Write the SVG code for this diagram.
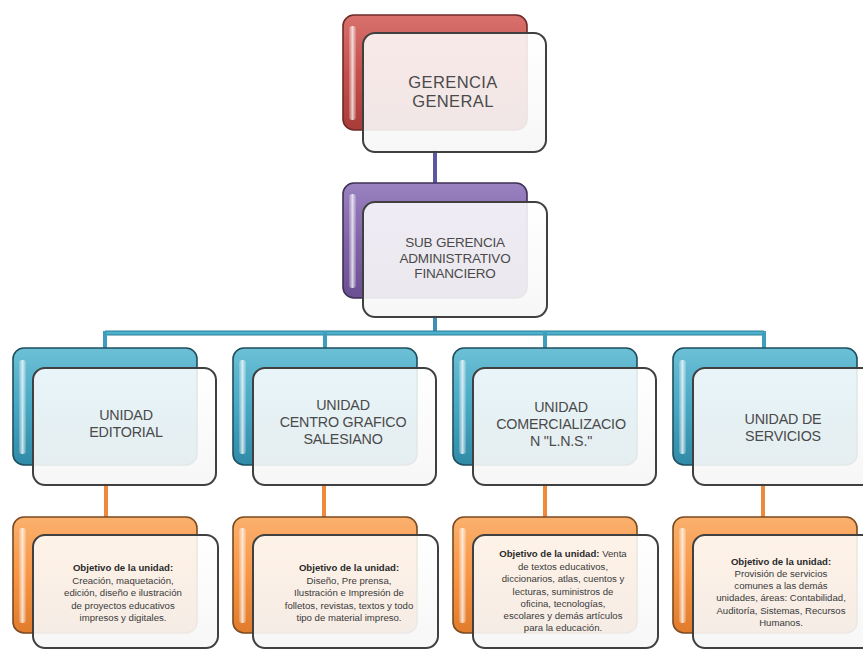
<svg xmlns="http://www.w3.org/2000/svg" width="863" height="650" viewBox="0 0 863 650">
<defs>
<linearGradient id="gRed" x1="0" y1="0" x2="0" y2="1"><stop offset="0" stop-color="#d8716d"/><stop offset="0.5" stop-color="#c4504c"/><stop offset="1" stop-color="#a83c39"/></linearGradient>
<linearGradient id="gPur" x1="0" y1="0" x2="0" y2="1"><stop offset="0" stop-color="#9a82c0"/><stop offset="0.5" stop-color="#8064a8"/><stop offset="1" stop-color="#6a4f92"/></linearGradient>
<linearGradient id="gBlu" x1="0" y1="0" x2="0" y2="1"><stop offset="0" stop-color="#6cc0d6"/><stop offset="0.5" stop-color="#48a8c4"/><stop offset="1" stop-color="#2f8aa6"/></linearGradient>
<linearGradient id="gOra" x1="0" y1="0" x2="0" y2="1"><stop offset="0" stop-color="#fbb16e"/><stop offset="0.5" stop-color="#f79646"/><stop offset="1" stop-color="#e07b2c"/></linearGradient>
<linearGradient id="gFront" x1="0" y1="0" x2="0" y2="1"><stop offset="0" stop-color="#ffffff" stop-opacity="0.86"/><stop offset="1" stop-color="#f6f6f6" stop-opacity="0.92"/></linearGradient>
<linearGradient id="gStripe" x1="0" y1="0" x2="1" y2="0"><stop offset="0" stop-color="#ffffff" stop-opacity="0.15"/><stop offset="0.5" stop-color="#ffffff" stop-opacity="0.75"/><stop offset="1" stop-color="#ffffff" stop-opacity="0.15"/></linearGradient>
</defs>
<style>
.back{stroke:#4a3a3a;stroke-width:1.6}
.red{fill:url(#gRed);stroke:#6e2a28}
.pur{fill:url(#gPur);stroke:#3f3055}
.blu{fill:url(#gBlu);stroke:#1f4f5e}
.ora{fill:url(#gOra);stroke:#7a4a20}
.stripe{fill:url(#gStripe)}
.front{fill:url(#gFront);stroke:#404040;stroke-width:2}
.t1{font-family:"Liberation Sans",Arial,sans-serif;fill:#4a4a4a;text-anchor:middle}
.big{font-size:16.5px;letter-spacing:0.4px}
.mid{font-size:13.5px;letter-spacing:-0.2px}
.unit{font-size:14.3px;letter-spacing:-0.2px}
.small{font-family:"Liberation Sans",Arial,sans-serif;font-size:9.6px;fill:#3a3a3a;text-anchor:middle}
.b{font-weight:bold;fill:#2a2a2a}
.cn{fill:none;stroke-width:4}
</style>
<g id="connectors">
<line class="cn" x1="435" y1="150" x2="435" y2="204" stroke="#5c58a0"/>
<line class="cn" x1="435" y1="315" x2="435" y2="334" stroke="#3d8fb3"/>
<line x1="105" y1="333" x2="764" y2="333" stroke="#2f7f98" stroke-width="5"/>
<line x1="105" y1="333" x2="764" y2="333" stroke="#4bb0cc" stroke-width="3"/>
<line class="cn" x1="105" y1="331" x2="105" y2="370" stroke="#3d9fbc"/>
<line class="cn" x1="325" y1="331" x2="325" y2="370" stroke="#3d9fbc"/>
<line class="cn" x1="545" y1="331" x2="545" y2="370" stroke="#3d9fbc"/>
<line class="cn" x1="764" y1="331" x2="764" y2="370" stroke="#3d9fbc"/>
<line class="cn" x1="106" y1="483" x2="106" y2="537" stroke="#ef8a3c"/>
<line class="cn" x1="324" y1="483" x2="324" y2="537" stroke="#ef8a3c"/>
<line class="cn" x1="545" y1="483" x2="545" y2="537" stroke="#ef8a3c"/>
<line class="cn" x1="763" y1="483" x2="763" y2="537" stroke="#ef8a3c"/>
</g>
<g id="gerencia-general">
<rect class="back red" x="343" y="15" width="184" height="115" rx="11"/>
<rect class="stripe" x="349" y="26" width="7" height="94" rx="3"/>
<rect class="front" x="363" y="33" width="183" height="119" rx="12"/>
<text class="t1 big" x="453" y="88">GERENCIA</text>
<text class="t1 big" x="453" y="107">GENERAL</text>
</g>
<g id="sub-gerencia">
<rect class="back pur" x="343" y="183" width="184" height="115" rx="11"/>
<rect class="stripe" x="349" y="194" width="7" height="94" rx="3"/>
<rect class="front" x="363" y="202" width="184" height="115" rx="12"/>
<text class="t1 mid" x="455" y="247">SUB GERENCIA</text>
<text class="t1 mid" x="455" y="262.5">ADMINISTRATIVO</text>
<text class="t1 mid" x="455" y="278">FINANCIERO</text>
</g>
<g id="unidad-editorial">
<rect class="back blu" x="13" y="348" width="184" height="117" rx="11"/>
<rect class="stripe" x="19" y="360" width="7" height="94" rx="3"/>
<rect class="front" x="33" y="368" width="183" height="117" rx="12"/>
<text class="t1 unit" x="126" y="420">UNIDAD</text>
<text class="t1 unit" x="126" y="437">EDITORIAL</text>
</g>
<g id="unidad-centro-grafico">
<rect class="back blu" x="233" y="348" width="184" height="117" rx="11"/>
<rect class="stripe" x="239" y="360" width="7" height="94" rx="3"/>
<rect class="front" x="253" y="368" width="183" height="117" rx="12"/>
<text class="t1 unit" x="343" y="410">UNIDAD</text>
<text class="t1 unit" x="343" y="427">CENTRO GRAFICO</text>
<text class="t1 unit" x="343" y="444">SALESIANO</text>
</g>
<g id="unidad-comercializacion">
<rect class="back blu" x="453" y="348" width="184" height="117" rx="11"/>
<rect class="stripe" x="459" y="360" width="7" height="94" rx="3"/>
<rect class="front" x="473" y="368" width="183" height="117" rx="12"/>
<text class="t1 unit" x="561" y="412">UNIDAD</text>
<text class="t1 unit" x="561" y="429">COMERCIALIZACIO</text>
<text class="t1 unit" x="561" y="446">N "L.N.S."</text>
</g>
<g id="unidad-servicios">
<rect class="back blu" x="673" y="348" width="184" height="117" rx="11"/>
<rect class="stripe" x="679" y="360" width="7" height="94" rx="3"/>
<rect class="front" x="693" y="368" width="183" height="117" rx="12"/>
<text class="t1 unit" x="783" y="424">UNIDAD DE</text>
<text class="t1 unit" x="783" y="441">SERVICIOS</text>
</g>
<g id="objetivo-editorial">
<rect class="back ora" x="13" y="517" width="184" height="116" rx="11"/>
<rect class="stripe" x="19" y="528" width="7" height="95" rx="3"/>
<rect class="front" x="33" y="535" width="185" height="113" rx="12"/>
<text class="small b" x="123" y="571">Objetivo de la unidad:</text>
<text class="small" x="123" y="584">Creación, maquetación,</text>
<text class="small" x="123" y="596">edición, diseño e ilustración</text>
<text class="small" x="123" y="609">de proyectos  educativos</text>
<text class="small" x="123" y="621">impresos y digitales.</text>
</g>
<g id="objetivo-centro-grafico">
<rect class="back ora" x="233" y="517" width="184" height="116" rx="11"/>
<rect class="stripe" x="239" y="528" width="7" height="95" rx="3"/>
<rect class="front" x="253" y="535" width="185" height="113" rx="12"/>
<text class="small b" x="349" y="571">Objetivo de la unidad:</text>
<text class="small" x="349" y="584">Diseño, Pre prensa,</text>
<text class="small" x="349" y="596">Ilustración e Impresión de</text>
<text class="small" x="349" y="609">folletos, revistas, textos y todo</text>
<text class="small" x="349" y="621">tipo de material impreso.</text>
</g>
<g id="objetivo-comercializacion">
<rect class="back ora" x="453" y="517" width="184" height="116" rx="11"/>
<rect class="stripe" x="459" y="528" width="7" height="95" rx="3"/>
<rect class="front" x="473" y="535" width="185" height="113" rx="12"/>
<text class="small" x="563" y="557"><tspan class="b">Objetivo de la unidad:</tspan>  Venta</text>
<text class="small" x="563" y="570">de textos educativos,</text>
<text class="small" x="563" y="582">diccionarios, atlas, cuentos y</text>
<text class="small" x="563" y="595">lecturas, suministros  de</text>
<text class="small" x="563" y="607">oficina, tecnologías,</text>
<text class="small" x="563" y="619">escolares y  demás artículos</text>
<text class="small" x="563" y="631">para la educación.</text>
</g>
<g id="objetivo-servicios">
<rect class="back ora" x="673" y="517" width="184" height="116" rx="11"/>
<rect class="stripe" x="679" y="528" width="7" height="95" rx="3"/>
<rect class="front" x="693" y="535" width="185" height="113" rx="12"/>
<text class="small b" x="781" y="565">Objetivo de la unidad:</text>
<text class="small" x="781" y="577">Provisión de servicios</text>
<text class="small" x="781" y="589">comunes a las demás</text>
<text class="small" x="781" y="601">unidades, áreas: Contabilidad,</text>
<text class="small" x="781" y="614">Auditoría, Sistemas, Recursos</text>
<text class="small" x="781" y="626">Humanos.</text>
</g>
</svg>
